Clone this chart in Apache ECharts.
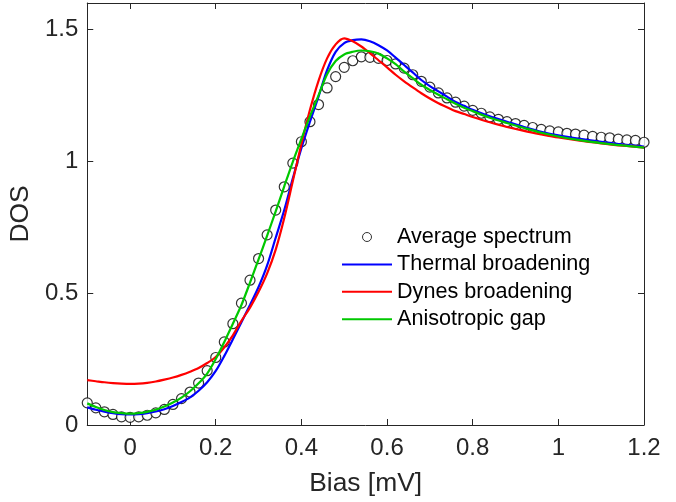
<!DOCTYPE html>
<html><head><meta charset="utf-8">
<script src="https://cdn.jsdelivr.net/npm/echarts@6/dist/echarts.min.js"></script>
<style>html,body{margin:0;padding:0;background:#fff}#c{width:676px;height:502px}</style>
</head><body><div id="c"></div>
<script>
// Measured spectrum (circles)
const biasPts = [-0.1,-0.08,-0.06,-0.04,-0.02,0,0.02,0.04,0.06,0.08,0.1,0.12,0.14,0.16,0.18,0.2,0.22,0.24,0.26,0.28,0.3,0.32,0.34,0.36,0.38,0.4,0.42,0.44,0.46,0.48,0.5,0.52,0.54,0.56,0.58,0.6,0.62,0.64,0.66,0.68,0.7,0.72,0.74,0.76,0.78,0.8,0.82,0.84,0.86,0.88,0.9,0.92,0.94,0.96,0.98,1,1.02,1.04,1.06,1.08,1.1,1.12,1.14,1.16,1.18,1.2];
const avgSpectrum = [0.084,0.065,0.050,0.040,0.031,0.029,0.031,0.037,0.046,0.059,0.078,0.100,0.125,0.159,0.206,0.256,0.315,0.384,0.462,0.549,0.631,0.721,0.815,0.903,0.993,1.074,1.150,1.215,1.278,1.321,1.356,1.381,1.396,1.394,1.390,1.382,1.369,1.353,1.328,1.303,1.281,1.259,1.240,1.224,1.209,1.193,1.182,1.168,1.159,1.150,1.143,1.136,1.128,1.121,1.115,1.111,1.106,1.103,1.099,1.094,1.091,1.089,1.084,1.081,1.079,1.072];
// Fit curves
const curveBias = [-0.1,-0.08,-0.06,-0.04,-0.02,0,0.02,0.04,0.06,0.08,0.1,0.12,0.14,0.16,0.18,0.2,0.22,0.24,0.26,0.28,0.3,0.32,0.34,0.36,0.38,0.4,0.42,0.44,0.46,0.48,0.5,0.52,0.54,0.56,0.58,0.6,0.62,0.64,0.66,0.68,0.7,0.72,0.74,0.76,0.78,0.8,0.84,0.88,0.92,0.96,1,1.05,1.1,1.15,1.2];
const thermal = [0.067,0.058,0.051,0.045,0.041,0.040,0.041,0.045,0.051,0.060,0.072,0.087,0.105,0.130,0.162,0.205,0.262,0.325,0.390,0.455,0.523,0.605,0.710,0.815,0.935,1.050,1.150,1.245,1.345,1.415,1.448,1.459,1.462,1.455,1.440,1.420,1.393,1.365,1.337,1.308,1.285,1.265,1.245,1.225,1.210,1.195,1.170,1.150,1.130,1.112,1.098,1.085,1.074,1.064,1.056];
const dynes = [0.170,0.166,0.162,0.159,0.157,0.156,0.157,0.160,0.165,0.172,0.180,0.190,0.202,0.216,0.235,0.258,0.295,0.340,0.395,0.445,0.505,0.575,0.665,0.785,0.925,1.065,1.195,1.305,1.390,1.443,1.466,1.455,1.435,1.410,1.383,1.356,1.328,1.303,1.280,1.258,1.238,1.220,1.205,1.190,1.179,1.168,1.148,1.130,1.115,1.102,1.090,1.078,1.068,1.059,1.052];
const aniso = [0.082,0.068,0.057,0.049,0.045,0.043,0.045,0.050,0.058,0.070,0.085,0.104,0.128,0.158,0.195,0.250,0.315,0.384,0.455,0.540,0.628,0.718,0.810,0.905,0.998,1.085,1.170,1.250,1.330,1.380,1.405,1.415,1.420,1.417,1.408,1.390,1.368,1.340,1.315,1.290,1.270,1.252,1.235,1.218,1.203,1.190,1.165,1.145,1.126,1.108,1.094,1.080,1.069,1.060,1.052];
const xTicks = [0,0.2,0.4,0.6,0.8,1,1.2];
const yTicks = [0,0.5,1,1.5];
const seriesNames = ['Average spectrum','Thermal broadening','Dynes broadening','Anisotropic gap'];

const FONT = "'Liberation Sans', Arial, Helvetica, sans-serif";
const AX = '#262626';
const LINE_ICON = 'path://M0,0L50,0L50,2L0,2Z';
const zip = (xs, ys) => xs.map((x, i) => [x, ys[i]]);

const baseAxis = {
  axisLine: {show: true, onZero: false, lineStyle: {color: AX, width: 1}},
  splitLine: {show: false}
};

const chart = echarts.init(document.getElementById('c'), null, {renderer: 'canvas'});
chart.setOption({
  animation: false,
  backgroundColor: '#fff',
  textStyle: {fontFamily: FONT},
  grid: {left: 85, top: 3, right: 32, bottom: 73, containLabel: false},
  legend: {
    orient: 'vertical', left: 342, top: 226, padding: 0,
    itemWidth: 50, itemHeight: 9, itemGap: 5.4,
    textStyle: {fontFamily: FONT, fontSize: 21.6, color: '#000', lineHeight: 22},
    data: [
      {name: seriesNames[0], icon: 'circle', itemStyle: {color: '#fff', borderColor: '#000', borderWidth: 1}},
      {name: seriesNames[1], icon: LINE_ICON, itemStyle: {color: '#0000ff', borderWidth: 0}},
      {name: seriesNames[2], icon: LINE_ICON, itemStyle: {color: '#ff0000', borderWidth: 0}},
      {name: seriesNames[3], icon: LINE_ICON, itemStyle: {color: '#00c800', borderWidth: 0}}
    ]
  },
  xAxis: [
    Object.assign({}, baseAxis, {
      type: 'value', position: 'bottom', min: -0.1, max: 1.2,
      name: 'Bias [mV]', nameLocation: 'middle', nameGap: 46,
      nameTextStyle: {fontFamily: FONT, fontSize: 26.4, color: AX},
      axisTick: {show: true, inside: true, length: 6, lineStyle: {color: AX}, customValues: xTicks},
      axisLabel: {show: true, margin: 11, fontSize: 24, color: AX, fontFamily: FONT, customValues: xTicks, formatter: v => String(v)}
    }),
    Object.assign({}, baseAxis, {
      type: 'value', position: 'top', min: -0.1, max: 1.2,
      axisTick: {show: true, inside: true, length: 6, lineStyle: {color: AX}, customValues: xTicks},
      axisLabel: {show: false, customValues: xTicks}
    })
  ],
  yAxis: [
    Object.assign({}, baseAxis, {
      type: 'value', position: 'left', min: 0, max: 1.6,
      name: 'DOS', nameLocation: 'middle', nameGap: 49, nameRotate: 90,
      nameTextStyle: {fontFamily: FONT, fontSize: 26.4, color: AX},
      axisTick: {show: true, inside: true, length: 6, lineStyle: {color: AX}, customValues: yTicks},
      axisLabel: {show: true, margin: 9, fontSize: 24, color: AX, fontFamily: FONT, customValues: yTicks, formatter: v => String(v)}
    }),
    Object.assign({}, baseAxis, {
      type: 'value', position: 'right', min: 0, max: 1.6,
      axisTick: {show: true, inside: true, length: 6, lineStyle: {color: AX}, customValues: yTicks},
      axisLabel: {show: false, customValues: yTicks}
    })
  ],
  series: [
    {name: seriesNames[0], type: 'scatter', data: zip(biasPts, avgSpectrum), symbol: 'circle', symbolSize: 10,
     itemStyle: {color: '#fff', borderColor: '#000', borderWidth: 1.2}, z: 2},
    {name: seriesNames[1], type: 'line', data: zip(curveBias, thermal), symbol: 'none', smooth: 0.3,
     lineStyle: {color: '#0000ff', width: 2.2}, itemStyle: {color: '#0000ff'}, z: 3},
    {name: seriesNames[2], type: 'line', data: zip(curveBias, dynes), symbol: 'none', smooth: 0.3,
     lineStyle: {color: '#ff0000', width: 2.2}, itemStyle: {color: '#ff0000'}, z: 3},
    {name: seriesNames[3], type: 'line', data: zip(curveBias, aniso), symbol: 'none', smooth: 0.3,
     lineStyle: {color: '#00c800', width: 2.2}, itemStyle: {color: '#00c800'}, z: 4}
  ]
});
</script>
</body></html>
